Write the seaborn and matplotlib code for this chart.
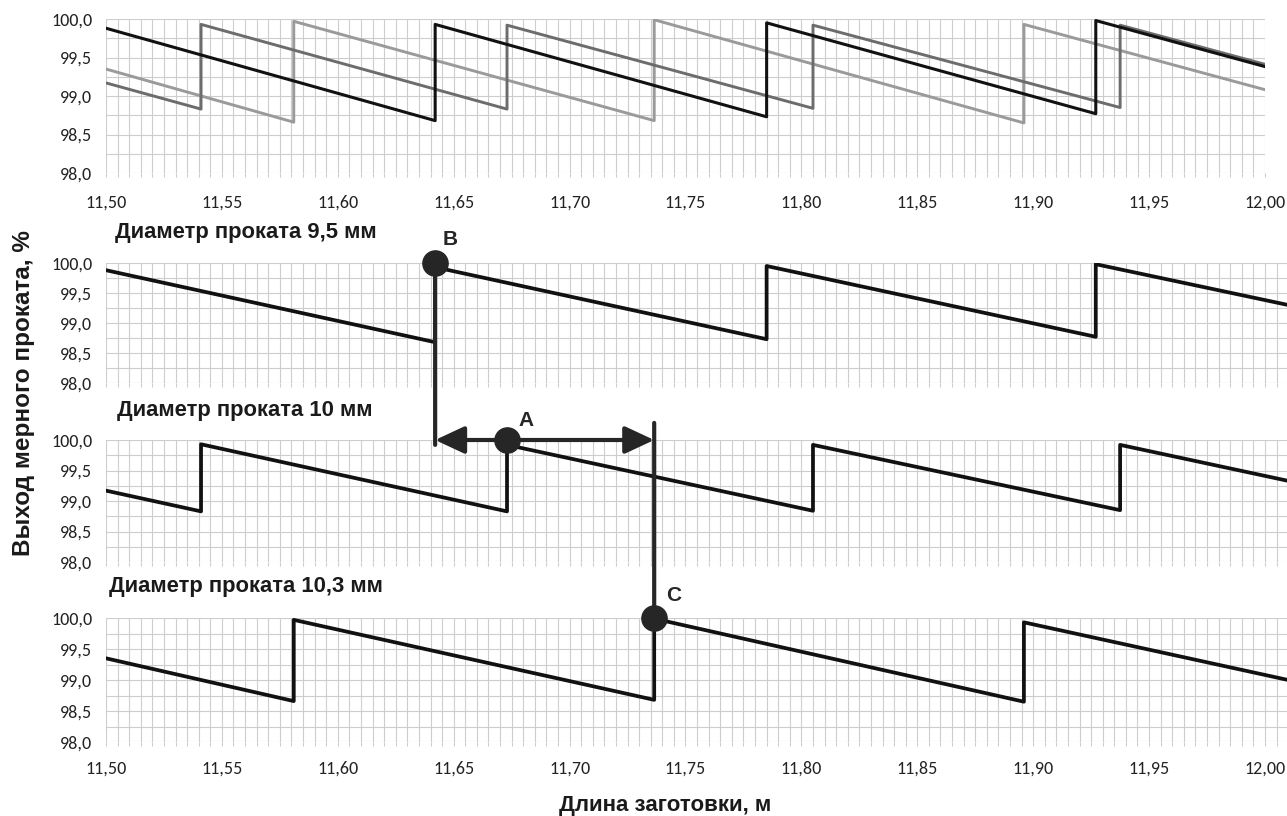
import numpy as np
import pandas as pd
import matplotlib
matplotlib.use("Agg")
import matplotlib.pyplot as plt
from matplotlib import font_manager
from matplotlib.patches import ConnectionPatch
from matplotlib.ticker import MultipleLocator
import seaborn as sns

# Blank length, m (a repeated x value is a vertical jump of the sawtooth)
length_95 = [11.50, 11.642, 11.642, 11.785, 11.785, 11.927, 11.927, 12.01]
yield_95 = [99.88, 98.68, 99.93, 98.73, 99.95, 98.77, 99.98, 99.30]

length_100 = [11.50, 11.541, 11.541, 11.673, 11.673, 11.805, 11.805, 11.9375, 11.9375, 12.01]
yield_100 = [99.17, 98.83, 99.93, 98.83, 99.92, 98.84, 99.92, 98.85, 99.92, 99.33]

length_103 = [11.50, 11.581, 11.581, 11.7365, 11.7365, 11.896, 11.896, 12.01]
yield_103 = [99.35, 98.66, 99.97, 98.68, 99.99, 98.65, 99.93, 99.00]

titles = ["Диаметр проката 9,5 мм", "Диаметр проката 10 мм", "Диаметр проката 10,3 мм"]

x_ticks = [11.50, 11.55, 11.60, 11.65, 11.70, 11.75, 11.80, 11.85, 11.90, 11.95, 12.00]
x_tick_labels = ["11,50", "11,55", "11,60", "11,65", "11,70", "11,75",
                 "11,80", "11,85", "11,90", "11,95", "12,00"]
y_ticks = [98.0, 98.5, 99.0, 99.5, 100.0]
y_tick_labels = ["98,0", "98,5", "99,0", "99,5", "100,0"]

# annotation points (length, yield)
point_b = (11.642, 100.0)
point_a = (11.673, 100.0)
point_c = (11.7365, 100.0)

sns.set_theme(style="white")

installed = {f.name for f in font_manager.fontManager.ttflist}
tick_font = next((f for f in ["Carlito", "Lato", "DejaVu Sans"] if f in installed), "DejaVu Sans")
tick_size = {"Carlito": 13, "Lato": 11.8}.get(tick_font, 11)
bold_font = ["Liberation Sans", "DejaVu Sans"]
plt.rcParams["font.family"] = [tick_font, "DejaVu Sans"]

W, H = 1287, 816
fig = plt.figure(figsize=(W / 100, H / 100), dpi=100)


def box(left, top, right, bottom):
    return [left / W, 1 - bottom / H, (right - left) / W, (bottom - top) / H]


GRID = "#cdcdcd"
INK = "#262626"
TEXT = "#1a1a1a"


def style_axis(ax, xmax, show_xlabels, xpad=10.5):
    ax.set_xlim(11.50, xmax)
    ax.set_ylim(98.0, 100.0)
    ax.xaxis.set_minor_locator(MultipleLocator(0.005))
    ax.yaxis.set_minor_locator(MultipleLocator(0.25))
    ax.grid(which="both", color=GRID, lw=0.8)
    ax.set_axisbelow(True)
    for s in ax.spines.values():
        s.set_visible(False)
    ax.set_xticks(x_ticks)
    ax.set_yticks(y_ticks)
    ax.set_yticklabels(y_tick_labels, fontsize=tick_size, color="#222222")
    if show_xlabels:
        ax.set_xticklabels(x_tick_labels, fontsize=tick_size, color="#222222")
    else:
        ax.set_xticklabels([])
    ax.tick_params(axis="x", which="both", bottom=True, length=3, width=0.8,
                   color=GRID, pad=xpad)
    ax.tick_params(axis="y", which="both", left=False, length=0, pad=10)
    ax.set_xlabel("")
    ax.set_ylabel("")


# top panel: all three diameters together
ax1 = fig.add_axes(box(106, 19, 1265, 173))
sns.lineplot(x=length_103, y=yield_103, sort=False, estimator=None, ax=ax1,
             color="#9a9a9a", lw=2.1)
sns.lineplot(x=length_100, y=yield_100, sort=False, estimator=None, ax=ax1,
             color="#6c6c6c", lw=2.1)
sns.lineplot(x=length_95, y=yield_95, sort=False, estimator=None, ax=ax1,
             color="#111111", lw=2.2)
style_axis(ax1, 12.00, True, xpad=12.5)

# separate panels
panel_px = [(263, 383), (440, 562), (618, 742)]
series = [(length_95, yield_95), (length_100, yield_100), (length_103, yield_103)]
title_px = [(115, 238), (117, 416), (109, 592)]
axes = []
for (top, bottom), (xs, ys), title, (tx, ty) in zip(panel_px, series, titles, title_px):
    ax = fig.add_axes(box(106, top, W, bottom))
    sns.lineplot(x=xs, y=ys, sort=False, estimator=None, ax=ax,
                 color="#111111", lw=2.7)
    style_axis(ax, 12.0095, False)
    fig.text(tx / W, 1 - ty / H, title, fontsize=15.8, fontweight="bold",
             color=TEXT, family=bold_font, ha="left", va="baseline")
    axes.append(ax)
ax2, ax3, ax4 = axes
ax4.set_xticklabels(x_tick_labels, fontsize=tick_size, color="#222222")

# annotation: B -> A <-> C
con_b = ConnectionPatch(xyA=point_b, coordsA=ax2.transData,
                        xyB=(point_b[0], 99.92), coordsB=ax3.transData,
                        color=INK, lw=3.0, zorder=5)
fig.add_artist(con_b)
con_c = ConnectionPatch(xyA=(point_c[0], 100.28), coordsA=ax3.transData,
                        xyB=point_c, coordsB=ax4.transData,
                        color=INK, lw=3.0, zorder=5)
fig.add_artist(con_c)
ax3.annotate("", xy=(point_b[0], point_a[1]), xytext=(point_c[0], point_a[1]),
             xycoords="data", annotation_clip=False, zorder=6,
             arrowprops=dict(arrowstyle="<|-|>,head_length=0.9,head_width=0.42",
                             mutation_scale=20, color=INK, lw=3.0,
                             shrinkA=0, shrinkB=0))

for ax, pt, label, off in [(ax2, point_b, "B", (11, 17)),
                           (ax3, point_a, "A", (14, 14)),
                           (ax4, point_c, "C", (14, 16.5))]:
    ax.scatter([pt[0]], [pt[1]], s=330, color=INK, zorder=10, clip_on=False)
    ax.annotate(label, xy=pt, xytext=off, textcoords="offset points",
                fontsize=15, fontweight="bold", color=INK, family=bold_font,
                ha="center", va="center", annotation_clip=False)

fig.text(24 / W, 1 - 393 / H, "Выход мерного проката, %", rotation=90,
         fontsize=17.5, fontweight="bold", color=TEXT,
         family=bold_font, ha="center", va="center")
fig.text(665 / W, 1 - 805 / H, "Длина заготовки, м", fontsize=16,
         fontweight="bold", color=TEXT,
         family=bold_font, ha="center", va="center")

fig.savefig("out.png", dpi=100)
